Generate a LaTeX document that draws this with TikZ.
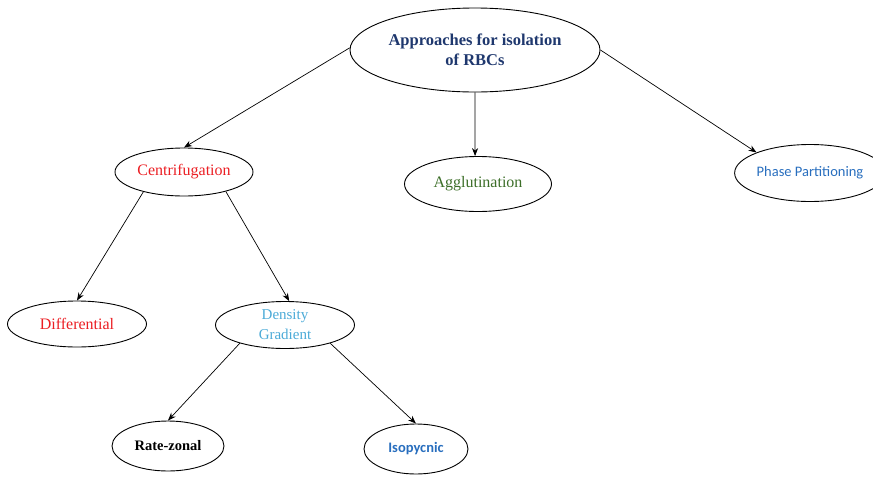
\documentclass[tikz,border=0pt]{standalone}
\usepackage{fontspec}
\setmainfont{Liberation Serif}
\newfontfamily\calibri{Carlito}
\usetikzlibrary{shapes.geometric,arrows.meta}
\definecolor{titulo}{RGB}{31,56,110}
\definecolor{rojo}{RGB}{235,30,35}
\definecolor{verde}{RGB}{60,110,40}
\definecolor{celeste}{RGB}{75,170,215}
\definecolor{azul}{RGB}{40,110,190}
\tikzset{
  burbuja/.style={ellipse, draw, line width=0.9pt, inner sep=0pt, align=center},
  flecha/.style={-{Stealth[length=8pt,width=6pt]}, line width=0.7pt}
}
\begin{document}
\begin{tikzpicture}[x=1pt,y=-1pt]
  \useasboundingbox (0,0) rectangle (873,477);

  % Nodo principal
  \node[burbuja, minimum width=250pt, minimum height=84pt, text=titulo,
        font=\fontsize{16.5}{20}\selectfont\bfseries] (raiz) at (475,50)
        {Approaches for isolation\\of RBCs};

  % Primer nivel
  \node[burbuja, minimum width=138pt, minimum height=48pt, text=rojo,
        font=\fontsize{16}{19}\selectfont] (centri) at (184,172) {Centrifugation};
  \node[burbuja, minimum width=147pt, minimum height=55pt, text=verde,
        font=\fontsize{16}{19}\selectfont] (aglu) at (478,184) {Agglutination};
  \node[burbuja, minimum width=146pt, minimum height=57pt, text=azul,
        font=\calibri\fontsize{14.5}{17}\selectfont] (fase) at (810,173) {Phase Partitioning};

  % Segundo nivel
  \node[burbuja, minimum width=139pt, minimum height=46pt, text=rojo,
        font=\fontsize{16}{19}\selectfont] (dif) at (77,324) {Differential};
  \node[burbuja, minimum width=139pt, minimum height=47pt, text=celeste,
        font=\fontsize{15}{20}\selectfont] (dens) at (285,325) {Density\\Gradient};

  % Tercer nivel
  \node[burbuja, minimum width=112pt, minimum height=50pt,
        font=\fontsize{14.5}{18}\selectfont\bfseries] (tasa) at (168,446) {Rate-zonal};
  \node[burbuja, minimum width=104pt, minimum height=50pt, text=azul,
        font=\calibri\fontsize{14.5}{17}\selectfont\bfseries] (iso) at (416,449) {Isopycnic};

  % Flechas
  \draw[flecha] (raiz.179) -- (centri.north);
  \draw[flecha] (raiz.south) -- (aglu.96);
  \draw[flecha] (raiz.0) -- (fase.159);
  \draw[flecha] (centri.206) -- (dif.north);
  \draw[flecha] (centri.335) -- (dens.80);
  \draw[flecha] (dens.202) -- (tasa.north);
  \draw[flecha] (dens.338) -- (iso.north);
\end{tikzpicture}
\end{document}
